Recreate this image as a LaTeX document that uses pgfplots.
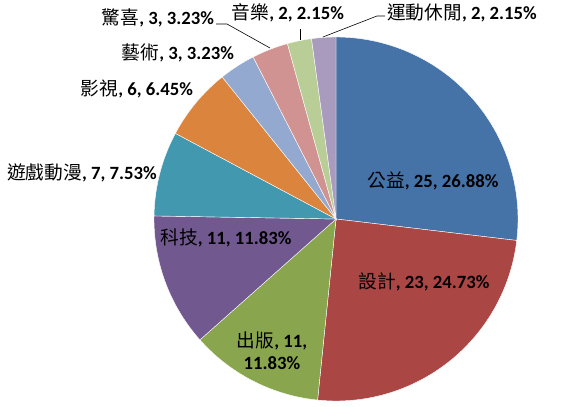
\documentclass[border=0pt]{standalone}
\usepackage{pgfplots}
\pgfplotsset{compat=1.18}
\usepackage{fontspec}
\setmainfont{Carlito}
\newfontfamily\cjk{Noto Sans CJK TC}
\definecolor{c1}{HTML}{4572A7}
\definecolor{c2}{HTML}{AA4643}
\definecolor{c3}{HTML}{89A54E}
\definecolor{c4}{HTML}{71588F}
\definecolor{c5}{HTML}{4198AF}
\definecolor{c6}{HTML}{DB843D}
\definecolor{c7}{HTML}{93A9CF}
\definecolor{c8}{HTML}{D19392}
\definecolor{c9}{HTML}{B9CD96}
\definecolor{c10}{HTML}{A99BBD}
\newcommand\lab[3]{{\cjk #1}\textbf{, #2, #3}}
\tikzset{lbl/.style={font=\fontsize{18.7}{21}\selectfont, text=black, inner sep=0pt}}
% values
\def\total{93}
\pgfmathsetmacro\aA{90}
\pgfmathsetmacro\aB{\aA-360*25/\total}
\pgfmathsetmacro\aC{\aB-360*23/\total}
\pgfmathsetmacro\aD{\aC-360*11/\total}
\pgfmathsetmacro\aE{\aD-360*11/\total}
\pgfmathsetmacro\aF{\aE-360*7/\total}
\pgfmathsetmacro\aG{\aF-360*6/\total}
\pgfmathsetmacro\aH{\aG-360*3/\total}
\pgfmathsetmacro\aI{\aH-360*3/\total}
\pgfmathsetmacro\aJ{\aI-360*2/\total}
\pgfmathsetmacro\aK{\aJ-360*2/\total}
\newcommand\slice[3]{%
  \addplot[fill=#1, draw=white, line width=0.4pt, domain=#3:#2, samples=80]
    ({336+182*cos(x)},{188+182*sin(x)}) -- (axis cs:336,188) -- cycle;}
\begin{document}
\begin{tikzpicture}
\begin{axis}[
  scale only axis, width=584pt, height=407pt,
  xmin=0, xmax=584, ymin=0, ymax=407,
  hide axis, clip=false,
]
\addplot[draw=none] coordinates {(0,0) (584,407)};
\slice{c1}{\aA}{\aB}
\slice{c2}{\aB}{\aC}
\slice{c3}{\aC}{\aD}
\slice{c4}{\aD}{\aE}
\slice{c5}{\aE}{\aF}
\slice{c6}{\aF}{\aG}
\slice{c7}{\aG}{\aH}
\slice{c8}{\aH}{\aI}
\slice{c9}{\aI}{\aJ}
\slice{c10}{\aJ}{\aK}
% leader lines
\addplot[black, line width=0.6pt] coordinates {(216,383) (227,383) (270,359)};
\addplot[black, line width=0.6pt] coordinates {(300,378) (300,367)};
\addplot[black, line width=0.6pt] coordinates {(385,391) (377,391) (323,370)};
% labels
\node[lbl] at (axis cs:433,226) {\lab{公益}{25}{26.88\%}};
\node[lbl] at (axis cs:424,125) {\lab{設計}{23}{24.73\%}};
\node[lbl, align=center] at (axis cs:272,56) {{\cjk 出版}\textbf{, 11,}\\[1pt]\textbf{11.83\%}};
\node[lbl] at (axis cs:226,169) {\lab{科技}{11}{11.83\%}};
\node[lbl] at (axis cs:82,234) {\lab{遊戲動漫}{7}{7.53\%}};
\node[lbl] at (axis cs:137,318) {\lab{影視}{6}{6.45\%}};
\node[lbl] at (axis cs:178,354) {\lab{藝術}{3}{3.23\%}};
\node[lbl] at (axis cs:158,389) {\lab{驚喜}{3}{3.23\%}};
\node[lbl] at (axis cs:288,394) {\lab{音樂}{2}{2.15\%}};
\node[lbl] at (axis cs:462,394) {\lab{運動休閒}{2}{2.15\%}};
\end{axis}
\end{tikzpicture}
\end{document}
